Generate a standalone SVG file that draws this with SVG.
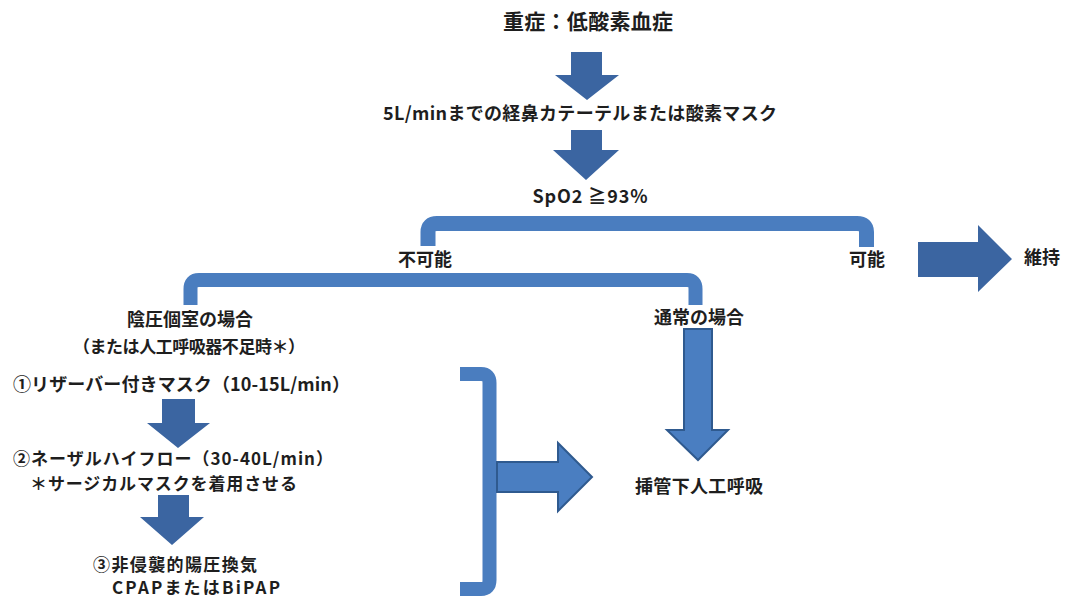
<svg xmlns="http://www.w3.org/2000/svg" width="1066" height="598" viewBox="0 0 1066 598">
<style>
text{font-family:"Noto Sans CJK JP","Noto Sans",sans-serif;font-weight:700;fill:#1e1e1e;font-size:18px}
.c{text-anchor:middle}
.s{font-size:17px}
.arr{fill:#3b65a1}
.big{fill:#4a7ec1;stroke:#2f5a8f;stroke-width:2}
.br{fill:none;stroke:#4a7dbf;stroke-linejoin:round}
</style>
<rect width="1066" height="598" fill="#ffffff"/>
<g id="connectors">
<path class="arr" d="M571,52 H602 V75 H619 L587,100 L555,75 H571 Z"/>
<path class="arr" d="M571,130 H602 V150 H619 L586,180 L553,150 H571 Z"/>
<path class="br" stroke-width="15" d="M428,246 V232 Q428,223.5 437,223.5 H857 Q866.5,223.5 866.5,232 V247"/>
<path class="br" stroke-width="14" d="M190.5,305 V289 Q190.5,280 199,280 H687 Q695.5,280 695.5,289 V305"/>
<path class="arr" d="M918,242 H978 V225 L1012,259 L978,292 V277 H918 Z"/>
<path class="big" d="M684,329 H712 V430 H728 L698,460 L667,430 H684 Z"/>
<path class="br" stroke-width="14" d="M460,374 H481 Q489.5,374 489.5,383 V580 Q489.5,589 481,589 H460"/>
<path class="big" d="M497,462 H558 V443 L592,477 L558,511 V492 H497 Z"/>
<path class="arr" d="M162,399 H195 V423 H210 L178,448 L147,423 H162 Z"/>
<path class="arr" d="M158,495 H189 V517 H204 L172,545 L140,517 H158 Z"/>
</g>
<g id="n-title"><text class="c" x="588" y="29" style="font-size:21px" textLength="170">重症：低酸素血症</text></g>
<g id="n-oxygen"><text class="c" x="580" y="120" textLength="394">5L/minまでの経鼻カテーテルまたは酸素マスク</text></g>
<g id="n-spo2"><text class="c" x="590" y="203" textLength="115">SpO2 ≧93%</text></g>
<g id="n-impossible"><text class="c" x="425" y="266">不可能</text></g>
<g id="n-possible"><text class="c" x="867" y="266">可能</text></g>
<g id="n-maintain"><text class="c" x="1042" y="264">維持</text></g>
<g id="n-negative"><text class="c" x="190" y="326">陰圧個室の場合</text><text class="c s" x="189" y="353" textLength="232">（または人工呼吸器不足時＊）</text></g>
<g id="n-normal"><text class="c" x="699" y="324">通常の場合</text></g>
<g id="n-reservoir"><text x="13" y="391" textLength="337">①リザーバー付きマスク（10-15L/min）</text></g>
<g id="n-hfnc"><text class="s" x="13" y="465" textLength="320">②ネーザルハイフロー（30-40L/min）</text><text class="s" x="30" y="490" textLength="267">＊サージカルマスクを着用させる</text></g>
<g id="n-nppv"><text class="s" x="93" y="571" textLength="164">③非侵襲的陽圧換気</text><text class="s" x="112" y="594" textLength="168">CPAPまたはBiPAP</text></g>
<g id="n-intubation"><text class="c" x="699" y="493" textLength="128">挿管下人工呼吸</text></g>
</svg>
